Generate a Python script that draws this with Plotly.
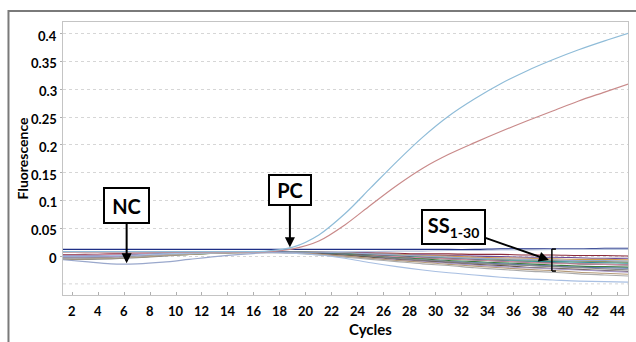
import plotly.graph_objects as go

# qPCR amplification run: cycle number vs. fluorescence
cycles = [1, 3, 5, 7, 9, 11, 13, 15, 17, 19, 21, 23, 25, 27, 29, 31, 33, 35, 37, 39, 41, 43, 45]

pc_blue = [0.008, 0.008, 0.008, 0.008, 0.008, 0.008, 0.008, 0.008, 0.009, 0.016, 0.038, 0.076,
           0.123, 0.170, 0.214, 0.252, 0.283, 0.310, 0.333, 0.353, 0.371, 0.387, 0.402]
pc_red = [0.007, 0.007, 0.007, 0.007, 0.007, 0.007, 0.007, 0.007, 0.008, 0.013, 0.027, 0.056,
          0.092, 0.127, 0.158, 0.183, 0.204, 0.224, 0.243, 0.261, 0.279, 0.295, 0.311]
nc_curve = [-0.006, -0.010, -0.014, -0.014, -0.011, -0.006, -0.001, 0.003, 0.006, 0.007, 0.007, 0.006,
            0.004, 0.002, 0.000, -0.002, -0.004, -0.005, -0.006, -0.007, -0.008, -0.008, -0.009]

# Sample curves SS1-30 (colour, values)
ss_curves = [
    ("#1f2f86", [0.012, 0.012, 0.012, 0.012, 0.012, 0.012, 0.012, 0.012, 0.012, 0.012, 0.012, 0.012,
                 0.012, 0.012, 0.012, 0.012, 0.012, 0.013, 0.013, 0.013, 0.013, 0.014, 0.014]),
    ("#8b2a3a", [0.003, 0.003, 0.004, 0.005, 0.006, 0.007, 0.008, 0.008, 0.008, 0.008, 0.008, 0.007,
                 0.006, 0.005, 0.004, 0.004, 0.003, 0.003, 0.002, 0.002, 0.001, 0.001, 0.000]),
    ("#b8c4dc", [0.000, 0.001, 0.002, 0.004, 0.005, 0.006, 0.007, 0.008, 0.008, 0.008, 0.008, 0.008,
                 0.008, 0.009, 0.009, 0.010, 0.010, 0.011, 0.011, 0.012, 0.012, 0.012, 0.012]),
    ("#6a4a9a", [0.001, 0.001, 0.002, 0.003, 0.005, 0.006, 0.007, 0.008, 0.008, 0.008, 0.007, 0.006,
                 0.005, 0.003, 0.002, 0.001, 0.000, -0.001, -0.002, -0.002, -0.003, -0.004, -0.004]),
    ("#d09a50", [-0.001, -0.001, 0.000, 0.002, 0.004, 0.005, 0.006, 0.007, 0.008, 0.008, 0.007, 0.006,
                 0.004, 0.003, 0.001, 0.000, -0.002, -0.003, -0.004, -0.005, -0.006, -0.006, -0.007]),
    ("#8c8c40", [-0.002, -0.002, -0.001, 0.001, 0.003, 0.005, 0.006, 0.007, 0.008, 0.008, 0.007, 0.005,
                 0.003, 0.001, -0.001, -0.003, -0.004, -0.006, -0.007, -0.008, -0.009, -0.010, -0.011]),
    ("#2f8f8f", [-0.003, -0.003, -0.002, 0.000, 0.002, 0.004, 0.006, 0.007, 0.008, 0.007, 0.006, 0.004,
                 0.002, 0.000, -0.002, -0.004, -0.006, -0.008, -0.009, -0.010, -0.011, -0.012, -0.013]),
    ("#3a4050", [-0.004, -0.004, -0.003, -0.001, 0.002, 0.004, 0.006, 0.007, 0.008, 0.007, 0.006, 0.004,
                 0.002, -0.001, -0.003, -0.005, -0.007, -0.009, -0.011, -0.012, -0.014, -0.015, -0.016]),
    ("#c88ca0", [0.002, 0.002, 0.003, 0.004, 0.005, 0.006, 0.007, 0.008, 0.008, 0.007, 0.005, 0.003,
                 0.001, -0.001, -0.003, -0.005, -0.007, -0.009, -0.011, -0.013, -0.014, -0.015, -0.016]),
    ("#3c7a3c", [-0.005, -0.005, -0.004, -0.002, 0.001, 0.003, 0.005, 0.007, 0.007, 0.007, 0.005, 0.003,
                 0.000, -0.003, -0.005, -0.008, -0.010, -0.012, -0.014, -0.016, -0.018, -0.019, -0.020]),
    ("#4a6aa8", [-0.001, -0.001, 0.000, 0.002, 0.004, 0.005, 0.007, 0.008, 0.008, 0.007, 0.005, 0.002,
                 -0.001, -0.004, -0.007, -0.010, -0.012, -0.014, -0.016, -0.018, -0.020, -0.021, -0.022]),
    ("#888888", [-0.006, -0.006, -0.005, -0.003, 0.000, 0.003, 0.005, 0.006, 0.007, 0.006, 0.004, 0.002,
                 -0.001, -0.004, -0.007, -0.010, -0.013, -0.015, -0.017, -0.019, -0.021, -0.023, -0.025]),
    ("#5e4e3e", [-0.003, -0.003, -0.002, 0.000, 0.003, 0.005, 0.006, 0.007, 0.007, 0.006, 0.004, 0.001,
                 -0.002, -0.006, -0.009, -0.012, -0.015, -0.017, -0.020, -0.022, -0.024, -0.026, -0.028]),
    ("#a898c8", [-0.002, -0.002, -0.001, 0.001, 0.003, 0.005, 0.006, 0.007, 0.007, 0.006, 0.003, 0.000,
                 -0.004, -0.007, -0.010, -0.013, -0.016, -0.019, -0.021, -0.023, -0.025, -0.027, -0.029]),
    ("#b49a78", [-0.005, -0.005, -0.004, -0.002, 0.001, 0.003, 0.005, 0.006, 0.007, 0.006, 0.003, 0.000,
                 -0.004, -0.008, -0.011, -0.015, -0.018, -0.021, -0.024, -0.026, -0.029, -0.031, -0.033]),
    ("#aaaaaa", [-0.004, -0.004, -0.003, -0.001, 0.002, 0.004, 0.005, 0.006, 0.006, 0.005, 0.002, -0.002,
                 -0.006, -0.010, -0.014, -0.017, -0.021, -0.024, -0.027, -0.029, -0.032, -0.034, -0.036]),
    ("#a8bfe2", [0.000, 0.000, 0.001, 0.002, 0.004, 0.005, 0.006, 0.007, 0.007, 0.005, 0.002, -0.004,
                 -0.012, -0.019, -0.025, -0.030, -0.034, -0.038, -0.041, -0.043, -0.045, -0.046, -0.047]),
]

y_ticks = [0, 0.05, 0.1, 0.15, 0.2, 0.25, 0.3, 0.35, 0.4]
y_tick_text = ["0", "0.05", "0.1", "0.15", "0.2", "0.25", "0.3", "0.35", "0.4"]
x_ticks = list(range(2, 45, 2))
x_tick_text = [str(c) for c in x_ticks]

fig = go.Figure()

for color, vals in ss_curves:
    fig.add_trace(go.Scatter(x=cycles, y=vals, mode="lines",
                             line=dict(color=color, width=1.1, shape="spline", smoothing=0.9)))

fig.add_trace(go.Scatter(x=cycles, y=nc_curve, mode="lines",
                         line=dict(color="#9aa8cc", width=1.2, shape="spline", smoothing=0.9)))
fig.add_trace(go.Scatter(x=cycles, y=pc_red, mode="lines",
                         line=dict(color="#c98a8a", width=1.2, shape="spline", smoothing=0.9)))
fig.add_trace(go.Scatter(x=cycles, y=pc_blue, mode="lines",
                         line=dict(color="#8fbcd8", width=1.2, shape="spline", smoothing=0.9)))

num_font = dict(family="Lato", size=13, color="black")
label_font = dict(family="Lato", size=20, color="black")

fig.update_layout(
    width=636, height=342,
    margin=dict(l=63, r=8, t=22, b=47),
    paper_bgcolor="white", plot_bgcolor="white",
    showlegend=False,
    xaxis=dict(range=[1.3, 44.8], tickmode="array", tickvals=x_ticks, showticklabels=False,
               showgrid=False, zeroline=False, showline=True, linecolor="#c4c4c4",
               linewidth=1, mirror=True, ticks="inside", ticklen=3, tickcolor="#b0b0b0"),
    yaxis=dict(range=[-0.07, 0.421], tickmode="array", tickvals=y_ticks, showticklabels=False,
               showgrid=True, gridcolor="#d6d6d6", griddash="dot", gridwidth=1,
               zeroline=False, showline=True, linecolor="#c4c4c4", linewidth=1, mirror=True,
               ticks="outside", ticklen=2, tickcolor="#b0b0b0"),
)

# bold tick labels placed on the axis scales
for xv, xt in zip(x_ticks, x_tick_text):
    fig.add_annotation(x=xv, y=0, xref="x", yref="paper", text="<b>%s</b>" % xt,
                       showarrow=False, xanchor="center", yanchor="top", yshift=-6,
                       font=num_font)
for yv, yt in zip(y_ticks, y_tick_text):
    fig.add_annotation(x=0, y=yv, xref="paper", yref="y", text="<b>%s</b>" % yt,
                       showarrow=False, xanchor="right", yanchor="middle", xshift=-4, yshift=-2,
                       font=num_font)

# extra dotted gridline below zero
fig.add_shape(type="line", xref="paper", x0=0, x1=1, y0=-0.05, y1=-0.05,
              line=dict(color="#d6d6d6", width=1, dash="dot"), layer="below")

# axis titles
fig.add_annotation(text="<b>Cycles</b>", xref="paper", yref="paper", x=0.544, y=-0.085,
                   xanchor="center", yanchor="top", showarrow=False,
                   font=dict(family="Lato", size=15, color="black"))
fig.add_annotation(text="<b>Fluorescence</b>", xref="paper", yref="paper", x=-0.071, y=0.5,
                   xanchor="center", yanchor="middle", textangle=-90, showarrow=False,
                   font=dict(family="Lato", size=14, color="black"))

# outer frame
fig.add_shape(type="rect", xref="paper", yref="paper", x0=-0.0965, x1=1.2, y0=-0.4, y1=1.04,
              line=dict(color="#7a7a7a", width=2), layer="below")

# labelled boxes with arrows to the curves
box = dict(showarrow=True, arrowhead=2, arrowsize=1, arrowwidth=2, arrowcolor="black",
           bgcolor="white", bordercolor="black", borderwidth=2, borderpad=0, font=label_font)
fig.add_annotation(x=6.2, y=-0.013, ax=0, ay=-58, text="<b>NC</b>", width=43, height=33, **box)
fig.add_annotation(x=18.77, y=0.016, ax=0, ay=-57, text="<b>PC</b>", width=40, height=28, **box)
fig.add_annotation(x=38.71, y=-0.007, ax=-95, ay=-33, text="<b>SS<sub>1-30</sub></b>",
                   width=61, height=32, **box)

# bracket spanning the sample curves
fig.add_shape(type="line", x0=38.94, x1=38.94, y0=0.0126, y1=-0.027, line=dict(color="black", width=1.5))
fig.add_shape(type="line", x0=38.94, x1=39.25, y0=0.0126, y1=0.0126, line=dict(color="black", width=1.5))
fig.add_shape(type="line", x0=38.94, x1=39.25, y0=-0.027, y1=-0.027, line=dict(color="black", width=1.5))

fig.write_html("out.html")
